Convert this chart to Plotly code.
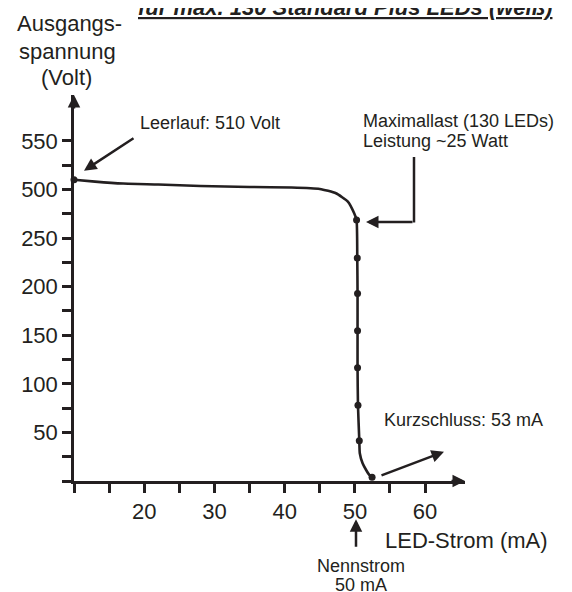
import plotly.graph_objects as go

# ---------------- data ----------------
curve_current_mA = [10, 13, 17, 22, 28, 35, 41, 45, 47.3, 49.0, 49.9, 50.24,
                    50.34, 50.38, 50.38, 50.38, 50.44, 50.63, 50.7, 51.1, 51.6, 52.05, 52.45]
curve_voltage_V = [510, 508, 506, 505, 503.5, 502.5, 502, 500.5, 480, 437, 377, 342,
                   229.5, 193, 154.5, 116.5, 78, 41.5, 28.5, 18.2, 11.3, 6.2, 3.8]
marker_current_mA = [10, 50.24, 50.34, 50.38, 50.38, 50.38, 50.44, 50.63, 52.45]
marker_voltage_V = [510, 342, 229.5, 193, 154.5, 116.5, 78, 41.5, 3.8]

x_tick_vals = [10, 15, 20, 25, 30, 35, 40, 45, 50, 55, 60]
x_tick_text = ["", "", "20", "", "30", "", "40", "", "50", "", "60"]
y_tick_volts = [0, 25, 50, 75, 100, 125, 150, 175, 200, 225, 250, 375, 500, 525, 550]
y_tick_text = ["", "", "50", "", "100", "", "150", "", "200", "", "250", "", "500", "", "550"]

# broken voltage scale: 0-250 linear, 250-500 compressed into one step, 500+ linear
def vscale(v):
    if v <= 250:
        return v / 50.0
    if v <= 500:
        return 5 + (v - 250) / 250.0
    return 6 + (v - 500) / 50.0

# ---------------- layout geometry (pixels, page coords) ----------------
OFF = 8                      # default page body margin
W, H = 572 - OFF, 592 - OFF
L, R, T, B = 74, 465, 95, 481
X0 = 10
PX_PER_MA = 7.022
PX_PER_STEP = 48.6
x_range = [X0, X0 + (R - L) / PX_PER_MA]
y_range = [0, (B - T) / PX_PER_STEP]

def xp(px):
    return (px - L) / (R - L)

def yp(py):
    return (B - py) / (B - T)

INK = "#231f20"
FONT = "Liberation Sans, Arial, sans-serif"

fig = go.Figure()
fig.add_trace(go.Scatter(
    x=curve_current_mA, y=[vscale(v) for v in curve_voltage_V],
    mode="lines", line=dict(color=INK, width=2.6, shape="spline", smoothing=0.5),
    hoverinfo="skip", cliponaxis=False))
fig.add_trace(go.Scatter(
    x=marker_current_mA, y=[vscale(v) for v in marker_voltage_V],
    mode="markers", marker=dict(color=INK, size=7),
    hoverinfo="skip", cliponaxis=False))

annots = []

def text(s, px, py, size=18, xanchor="left"):
    annots.append(dict(text=s, xref="paper", yref="paper", x=xp(px), y=yp(py),
                       xanchor=xanchor, yanchor="middle", showarrow=False,
                       font=dict(size=size, color=INK, family=FONT)))

def arrow(x_tail, y_tail, x_tip, y_tip):
    annots.append(dict(text="", xref="paper", yref="paper", x=xp(x_tip), y=yp(y_tip),
                       axref="pixel", ayref="pixel", ax=x_tail - x_tip, ay=y_tail - y_tip,
                       showarrow=True, arrowhead=2, arrowsize=1, arrowwidth=2.5,
                       arrowcolor=INK, standoff=0))

# axis arrowheads
arrow(74, 110, 74, 95)
arrow(450, 481, 465, 481)

# annotation arrows
arrow(135, 137.3, 84, 170.7)
arrow(414, 222, 366, 222)
arrow(380, 476, 444, 451.7)
arrow(356, 548.3, 356, 519.3)

# texts
text("Leerlauf: 510 Volt", 138.3, 123.3)
text("Maximallast (130 LEDs)", 360.7, 120.7)
text("Leistung ~25 Watt", 360.7, 140.7)
text("Kurzschluss: 53 mA", 382, 420)
text("LED-Strom (mA)", 383, 540.7, size=22)
text("Nennstrom", 361.3, 566, xanchor="center")
text("50 mA", 361.3, 585, xanchor="center")
text("Ausgangs-", 69, 23.8, size=22, xanchor="center")
text("spannung", 67.5, 51, size=22, xanchor="center")
text("(Volt)", 66, 77, size=22, xanchor="center")
text("<b><i><u>für max. 130 Standard Plus LEDs (weiß)</u></i></b>", 344.5, 7, size=22, xanchor="center")

shapes = [dict(type="line", xref="paper", yref="paper", x0=xp(414), y0=yp(157),
               x1=xp(414), y1=yp(222.5), line=dict(color=INK, width=2.5))]

fig.update_layout(
    width=W, height=H,
    margin=dict(l=L - OFF, r=W + OFF - R, t=T - OFF, b=H + OFF - B, pad=0),
    paper_bgcolor="white", plot_bgcolor="white",
    showlegend=False,
    font=dict(family=FONT, color=INK),
    annotations=annots, shapes=shapes,
    xaxis=dict(range=x_range, showgrid=False, zeroline=False, showline=True,
               linecolor=INK, linewidth=2.5, ticks="outside", ticklen=9,
               tickwidth=2.5, tickcolor=INK, tickvals=x_tick_vals, ticktext=x_tick_text,
               tickfont=dict(size=22, color=INK, family=FONT), fixedrange=True),
    yaxis=dict(range=y_range, showgrid=False, zeroline=False, showline=True,
               linecolor=INK, linewidth=2.5, ticks="outside", ticklen=9,
               tickwidth=2.5, tickcolor=INK,
               tickvals=[vscale(v) for v in y_tick_volts], ticktext=y_tick_text,
               tickfont=dict(size=22, color=INK, family=FONT), fixedrange=True),
)

fig.write_html("out.html", config={"displayModeBar": False})
